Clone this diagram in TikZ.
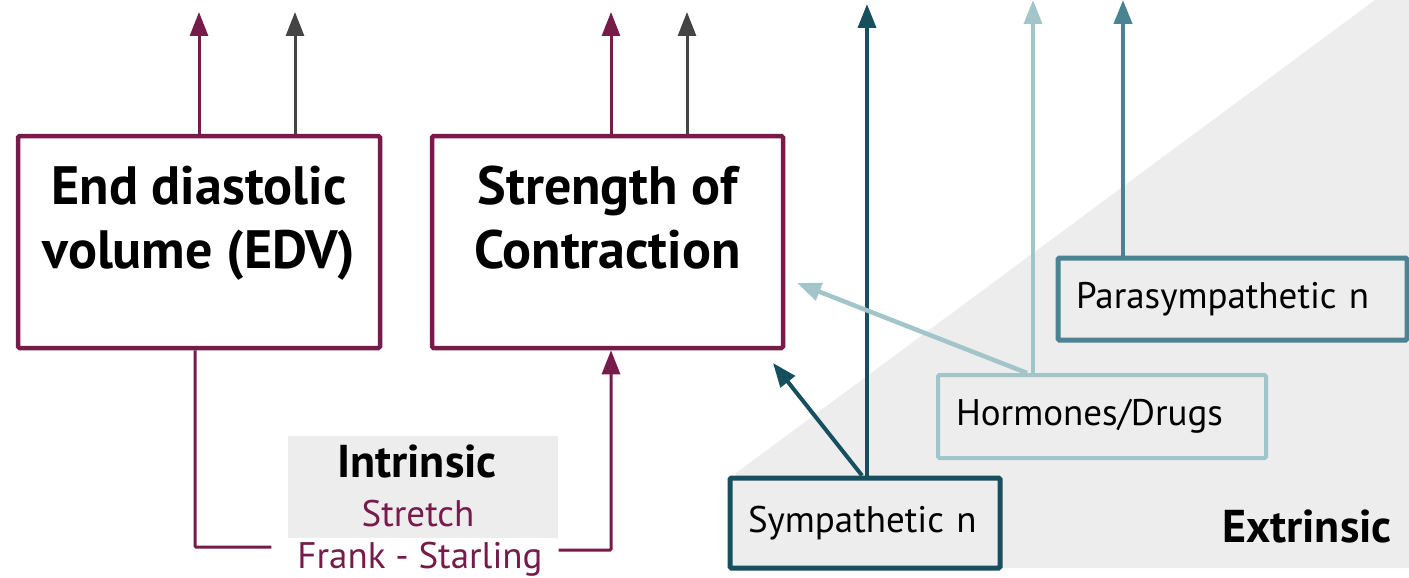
\documentclass[tikz,border=0pt]{standalone}
\usepackage{fontspec}
\setmainfont{PT Sans}
\usetikzlibrary{arrows.meta}
\definecolor{plum}{HTML}{771B4B}
\definecolor{dgray}{HTML}{444444}
\definecolor{dteal}{HTML}{164F5D}
\definecolor{lteal}{HTML}{A2C5CA}
\definecolor{mteal}{HTML}{4A8391}
\definecolor{bggray}{HTML}{EDEDED}
\tikzset{
  bigbox/.style={draw=plum, line width=4.5pt, fill=white, rounded corners=1.5pt, align=center,
    font=\fontsize{54}{64}\selectfont\bfseries, inner sep=0pt, text depth=50pt},
  smallbox/.style={line width=5pt, fill=bggray, rounded corners=1.5pt, align=left,
    font=\fontsize{37}{42}\selectfont, inner xsep=18pt, inner ysep=0pt},
  tip/.style={-{Triangle[length=24pt,width=18pt]}},
  parr/.style={tip, draw=plum, line width=3pt},
  garr/.style={tip, draw=dgray, line width=3pt},
  plumline/.style={draw=plum, line width=3pt, rounded corners=1pt},
}
\begin{document}
\begin{tikzpicture}[x=1pt,y=-1pt]
\useasboundingbox (0,0) rectangle (1409,578);
% extrinsic background
\fill[bggray] (1375,0) -- (1409,0) -- (1409,568) -- (736,568) -- (736,473) -- cycle;
% intrinsic background
\fill[bggray] (288,436) rectangle (558,538);

% main boxes
\node[bigbox, minimum width=362pt, minimum height=212pt] (edv) at (199,242) {End diastolic\\volume (EDV)};
\node[bigbox, minimum width=351pt, minimum height=212pt] (soc) at (607.5,242) {Strength of\\Contraction};

% extrinsic boxes
\node[smallbox, draw=dteal, text width=234pt, minimum height=90pt] (symp) at (865,523) {Sympathetic n};
\node[smallbox, draw=lteal, line width=4pt, text width=292pt, minimum height=83pt] (horm) at (1102,416.5) {Hormones/Drugs};
\node[smallbox, draw=mteal, text width=313pt, minimum height=82pt] (para) at (1232.5,299) {Parasympathetic n};

% labels
\node[font=\fontsize{46}{50}\selectfont\bfseries] (intr) at (417,461) {Intrinsic};
\node[font=\fontsize{37}{42}\selectfont, text=plum] (str) at (418,514) {Stretch};
\node[font=\fontsize{37}{42}\selectfont, text=plum, inner xsep=26pt, inner ysep=0pt] (fs) at (420,559) {Frank - Starling};
\node[font=\fontsize{46}{50}\selectfont\bfseries] (extr) at (1307,526) {Extrinsic};

% output arrows
\coordinate (e1) at (199,12);
\coordinate (e2) at (295,12);
\coordinate (c1) at (611,12);
\coordinate (c2) at (687,12);
\draw[parr] (edv.north -| e1) -- (e1);
\draw[garr] (edv.north -| e2) -- (e2);
\draw[parr] (soc.north -| c1) -- (c1);
\draw[garr] (soc.north -| c2) -- (c2);

% intrinsic loop
\coordinate (l1) at (195,547);
\coordinate (l2) at (611,550);
\draw[plumline] (edv.south -| l1) -- (l1) -- (fs.west |- l1);
\draw[plumline, tip] ([xshift=-10pt]fs.east |- l2) -- (l2) -- (soc.south -| l2);

% sympathetic
\coordinate (s1) at (867,4);
\coordinate (s2) at (773,363);
\draw[tip, draw=dteal, line width=3.5pt] (symp.north -| s1) -- (s1);
\draw[tip, draw=dteal, line width=4pt] ([xshift=-3pt]symp.north) -- (s2);
% hormones
\coordinate (h1) at (1033,0);
\coordinate (h2) at (797,283);
\coordinate (hs) at (1027,374);
\draw[tip, draw=lteal, line width=3.5pt] (horm.north -| h1) -- (h1);
\draw[tip, draw=lteal, line width=4.5pt] (horm.north -| hs) -- (h2);
% parasympathetic
\coordinate (p1) at (1123,0);
\draw[tip, draw=mteal, line width=4pt] (para.north -| p1) -- (p1);
\end{tikzpicture}
\end{document}
